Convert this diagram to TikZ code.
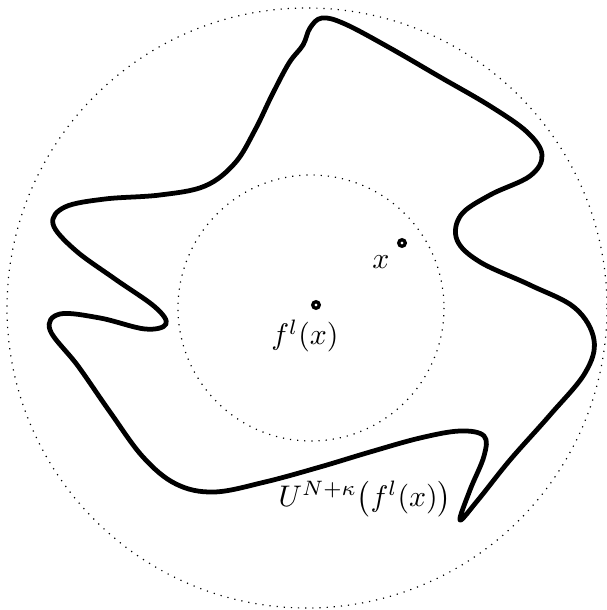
\documentclass[tikz,border=0pt]{standalone}
\usepackage{amsmath,amssymb}
\usetikzlibrary{positioning}
\tikzset{
  ptdot/.style={circle, draw, line width=1.1pt, inner sep=0pt, minimum size=2.2pt},
  ball/.style={dotted}
}
\begin{document}
\begin{tikzpicture}[x=0.0118cm, y=-0.0118cm]
    \useasboundingbox (0,0) rectangle (606,610);

    % Outer ball
    \draw[ball] (307,308) circle (300);

    % Inner ball around f^l(x)
    \draw[ball] (311,308) circle (133);

    % The neighbourhood U^{N+kappa}
    \draw[ultra thick, line join=round] plot[smooth cycle, tension=0.6] coordinates {
      (322,18) (345,24) (390,48) (440,77) (490,106) (527,132) (542,155)
      (530,176) (490,195) (461,215) (457,240) (480,262) (530,285)
      (575,308) (594,340) (585,373) (550,415) (510,460) (478,500)
      (460,520) (470,490) (484,456) (484,436) (460,431) (420,438)
      (370,452) (320,467) (265,482) (214,492) (176,484) (143,457)
      (110,412) (78,366) (50,330) (60,314) (100,318) (145,329)
      (166,324) (155,307) (115,279) (75,250) (53,224) (65,207)
      (105,199) (160,195) (205,186) (235,163) (255,130) (272,95)
      (289,63) (303,45) (310,28)};

    % Points x and f^l(x)
    \node[ptdot] (x) at (402,243) {};
    \node (xlab) at (381,262) {$x$};
    \node[ptdot] (fx) at (316,305) {};
    \node (fxlab) at (305,336) {$f^l(x)$};

    % Label of the neighbourhood
    \node (ulab) at (365,499) {$U^{N+\kappa}\big(f^l(x)\big)$};
\end{tikzpicture}
\end{document}
